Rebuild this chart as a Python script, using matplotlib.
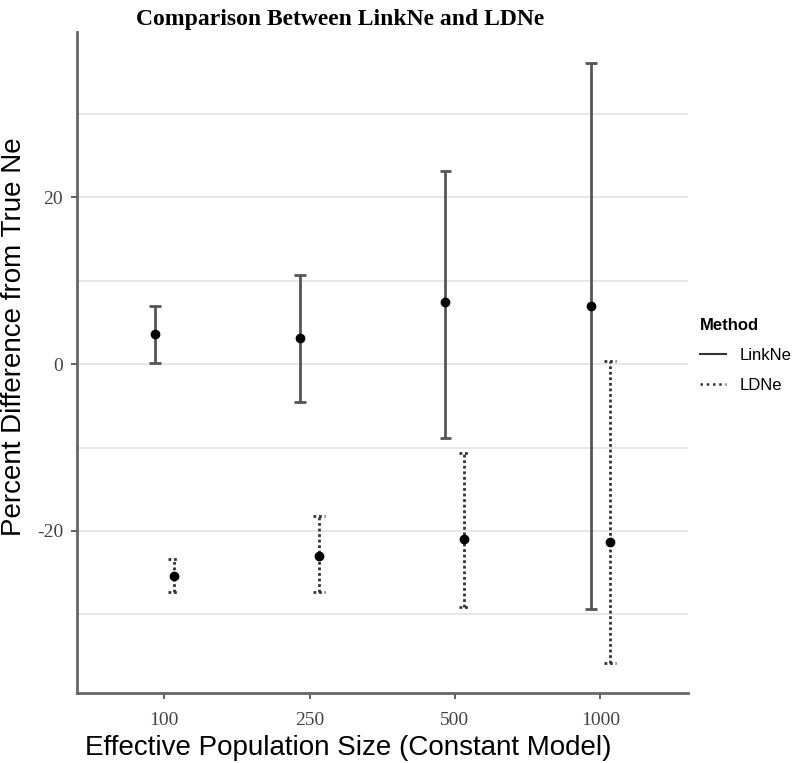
import numpy as np
import matplotlib
matplotlib.use("Agg")
import matplotlib.pyplot as plt
from matplotlib.lines import Line2D

plt.rcParams["axes.unicode_minus"] = False

# Data
sizes = ["100", "250", "500", "1000"]
methods = ["LinkNe", "LDNe"]

linkne_mean = [3.6, 3.1, 7.5, 7.0]
linkne_low = [0.15, -4.6, -8.8, -29.3]
linkne_high = [7.0, 10.7, 23.2, 36.1]

ldne_mean = [-25.4, -23.0, -21.0, -21.3]
ldne_low = [-27.3, -27.3, -29.1, -35.8]
ldne_high = [-23.4, -18.2, -10.7, 0.4]

fig = plt.figure(figsize=(7.96, 7.63), dpi=100)
ax = fig.add_axes([0.0967, 0.092, 0.767, 0.866])

x = np.arange(1, len(sizes) + 1)
dodge = 0.065
cap = 0.04
dotted = (0, (1, 1))

series = [
    (x - dodge, linkne_mean, linkne_low, linkne_high, "-", "#555555", 2.0),
    (x + dodge, ldne_mean, ldne_low, ldne_high, dotted, "#333333", 2.0),
]

for xs, m, lo, hi, ls, col, lw in series:
    ax.vlines(xs, lo, hi, colors=col, linestyles=ls, linewidth=lw, zorder=2)
    ax.hlines(lo, xs - cap, xs + cap, colors=col, linestyles=ls, linewidth=lw, zorder=2)
    ax.hlines(hi, xs - cap, xs + cap, colors=col, linestyles=ls, linewidth=lw, zorder=2)
    ax.plot(xs, m, "o", color="black", markersize=6, zorder=3)

ax.set_xlim(0.4, 4.6)
ax.set_ylim(-39.4, 39.8)
ax.set_xticks(x)
ax.set_xticklabels(sizes)
ax.set_yticks([-20, 0, 20])
ax.set_yticks([-30, -10, 10, 30], minor=True)

# ggplot-like background
ax.grid(axis="y", which="both", color="#e6e6e6", linewidth=1.4, zorder=0)
ax.set_axisbelow(True)
for side in ["top", "right"]:
    ax.spines[side].set_visible(False)
for side in ["left", "bottom"]:
    ax.spines[side].set_color("#666666")
    ax.spines[side].set_linewidth(2.0)

ax.tick_params(axis="both", which="major", color="#444444", length=4, width=1.2,
               labelsize=14, labelcolor="#444444", pad=6)
ax.tick_params(axis="x", which="major", pad=10)
ax.tick_params(axis="y", which="minor", length=0)
for lab in ax.get_xticklabels() + ax.get_yticklabels():
    lab.set_fontfamily("Liberation Serif")

ax.set_xlabel("Effective Population Size (Constant Model)", fontsize=20,
              fontfamily="Liberation Sans")
ax.xaxis.set_label_coords(0.444, -0.064)
ax.set_ylabel("Percent Difference from True Ne", fontsize=20,
              fontfamily="Liberation Sans")
ax.yaxis.set_label_coords(-0.082, 0.539)

fig.text(0.427, 0.975, "Comparison Between LinkNe and LDNe", ha="center", va="center",
         fontsize=17, fontweight="bold", fontfamily="Liberation Serif")

handles = [
    Line2D([], [], color="#333333", linestyle="-", linewidth=1.5),
    Line2D([], [], color="#333333", linestyle=(0, (1, 1.5)), linewidth=1.8),
]
leg = fig.legend(handles, methods, title="Method", loc="upper left",
                 bbox_to_anchor=(0.86, 0.603), frameon=False, handlelength=1.6,
                 prop={"family": "Liberation Sans", "size": 12},
                 title_fontproperties={"family": "Liberation Sans", "size": 12, "weight": "bold"},
                 labelspacing=0.9)
leg._legend_box.align = "left"

fig.savefig("out.png", dpi=100)
